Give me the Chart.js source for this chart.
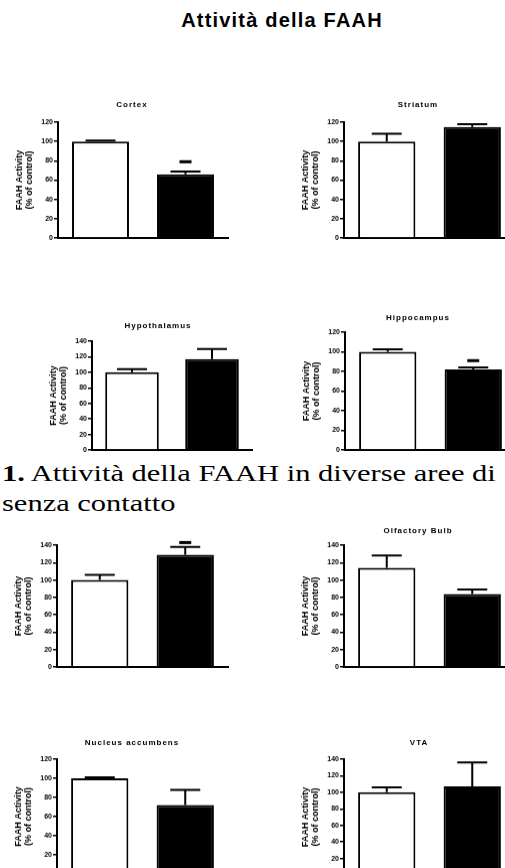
<!DOCTYPE html>
<html>
<head>
<meta charset="utf-8">
<script src="https://cdn.jsdelivr.net/npm/chart.js@4.4.1/dist/chart.umd.min.js"></script>
<style>
body { margin:0; width:505px; height:868px; overflow:hidden; background:#fff; position:relative; }
.box { position:absolute; }
#mainTitle { position:absolute; left:0; width:564px; top:9px; text-align:center;
  font:bold 20px 'Liberation Sans', Arial, sans-serif; letter-spacing:1.2px; color:#000; }
.cap { position:absolute; left:2px; font:24px 'Liberation Serif', 'Times New Roman', serif; color:#000;
  transform:scaleX(1.27); transform-origin:0 0; white-space:nowrap; }
</style>
</head>
<body>
<div id="mainTitle">Attività della FAAH</div>
<div class="cap" style="top:460px"><b>1.</b> Attività della FAAH in diverse aree di</div>
<div class="cap" style="top:490px">senza contatto</div>
<script>
'use strict'
// data (% of control)
const groups = ['Control', 'Treated'];
const regions = ['Cortex', 'Striatum', 'Hypothalamus', 'Hippocampus', '', 'Olfactory Bulb', 'Nucleus accumbens', 'VTA'];
const controlMean = [100, 100, 100, 100, 100, 114, 100, 100];
const controlSem  = [1, 8, 4, 2.5, 6, 14, 1, 6];
const treatedMean = [66, 115, 117, 82, 129, 84, 72, 107];
const treatedSem  = [3, 3, 13, 2, 9, 5, 16, 29];
const yMax        = [120, 120, 140, 120, 140, 140, 120, 140];
const starAt      = [79, null, null, 91, 143, null, null, null];

// where each plot area sits on the page: y axis x, pixel of max, pixel of 0, right edge, title centre offset / gap
const panels = [
    {x: 58,  top: 122, zero: 237, right: 228, tx: 74, tg: 17},
    {x: 344, top: 122, zero: 237, right: 515, tx: 74, tg: 17},
    {x: 92,  top: 341, zero: 449, right: 252, tx: 66, tg: 15},
    {x: 345, top: 332, zero: 449, right: 516, tx: 73, tg: 14},
    {x: 57,  top: 545, zero: 666, right: 228, tx: 75, tg: 14},
    {x: 344, top: 545, zero: 666, right: 515, tx: 74, tg: 14},
    {x: 57,  top: 759, zero: 873, right: 228, tx: 75, tg: 16},
    {x: 344, top: 759, zero: 874, right: 515, tx: 75, tg: 16}
];

const smallFont = {family: 'Liberation Sans', size: 7, weight: 'bold', lineHeight: 1};

const errorBars = {
    id: 'errorBars',
    afterDatasetsDraw(chart) {
        const ctx = chart.ctx;
        const y = chart.scales.y;
        const ds = chart.data.datasets[0];
        const meta = chart.getDatasetMeta(0);
        ctx.save();
        ctx.strokeStyle = '#000';
        ctx.fillStyle = '#000';
        ctx.lineWidth = 2;
        meta.data.forEach((bar, j) => {
            let top = y.getPixelForValue(ds.data[j] + ds.sem[j]);
            ctx.beginPath();
            ctx.moveTo(bar.x, bar.y);
            ctx.lineTo(bar.x, top);
            ctx.moveTo(bar.x - 15, top);
            ctx.lineTo(bar.x + 15, top);
            ctx.stroke();
        });
        let s = ds.star;
        if (s != null) {
            let yy = y.getPixelForValue(s);
            let bx = meta.data[1].x;
            ctx.fillRect(bx - 6, yy - 1.5, 12, 3);
        }
        ctx.restore();
    }
};

// panel title, centred over the whole graph incl. the axis label (Prism style)
const panelTitle = {
    id: 'panelTitle',
    afterDraw(chart, args, opts) {
        if (!opts.text) return;
        const ctx = chart.ctx;
        ctx.save();
        ctx.fillStyle = '#000';
        ctx.font = 'bold 8px "Liberation Sans"';
        ctx.letterSpacing = '1px';
        ctx.textAlign = 'center';
        ctx.textBaseline = 'middle';
        ctx.fillText(opts.text, chart.chartArea.left + opts.dx, chart.chartArea.top - opts.gap);
        ctx.restore();
    }
};

function makePanel(i) {
    const L = panels[i];
    let wrap = document.createElement('div');
    wrap.className = 'box';
    let cv = document.createElement('canvas');
    cv.width = 300; cv.height = 200;
    wrap.appendChild(cv);
    document.body.appendChild(wrap);

    const chart = new Chart(cv, {
        type: 'bar',
        data: {
            labels: groups,
            datasets: [{
                data: [controlMean[i], treatedMean[i]],
                sem: [controlSem[i], treatedSem[i]],
                star: starAt[i],
                backgroundColor: ['#fff', '#000'],
                borderColor: '#000',
                borderWidth: 2,
                barPercentage: 0.67,
                categoryPercentage: 1
            }]
        },
        options: {
            responsive: false,
            maintainAspectRatio: false,
            animation: false,
            layout: {padding: {left: 0, right: 20, top: 22, bottom: 0}},
            plugins: {
                legend: {display: false},
                tooltip: {enabled: false},
                title: {display: false},
                panelTitle: {text: regions[i], dx: L.tx, gap: L.tg}
            },
            scales: {
                x: {
                    grid: {display: true, drawOnChartArea: false, drawTicks: false},
                    border: {color: '#000', width: 2},
                    ticks: {display: false},
                    afterFit(s) { s.height = 4; }
                },
                y: {
                    min: 0,
                    max: yMax[i],
                    ticks: {stepSize: 20, color: '#000', font: smallFont, padding: 1},
                    grid: {drawOnChartArea: false, color: '#000', tickLength: 4, lineWidth: 1.5},
                    border: {color: '#000', width: 2},
                    title: {
                        display: true,
                        text: ['FAAH Activity', '(% of control)'],
                        color: '#000',
                        font: {family: 'Liberation Sans', size: 9, weight: 'bold', lineHeight: 1.05},
                        padding: 0
                    },
                    afterFit(s) { s.width = 43; }
                }
            }
        },
        plugins: [errorBars, panelTitle]
    });

    // fit the canvas so the plot area lands on the panel's place
    let a = chart.chartArea;
    let dl = a.left, dt = a.top, dr = chart.width - a.right, db = chart.height - a.bottom;
    chart.resize(L.right - L.x + dl + dr, L.zero - L.top + dt + db);
    wrap.style.left = (L.x - dl) + 'px';
    wrap.style.top = (L.top - dt) + 'px';
    return chart;
}

for (let i = 0; i < regions.length; i++) makePanel(i);
</script>
</body>
</html>
